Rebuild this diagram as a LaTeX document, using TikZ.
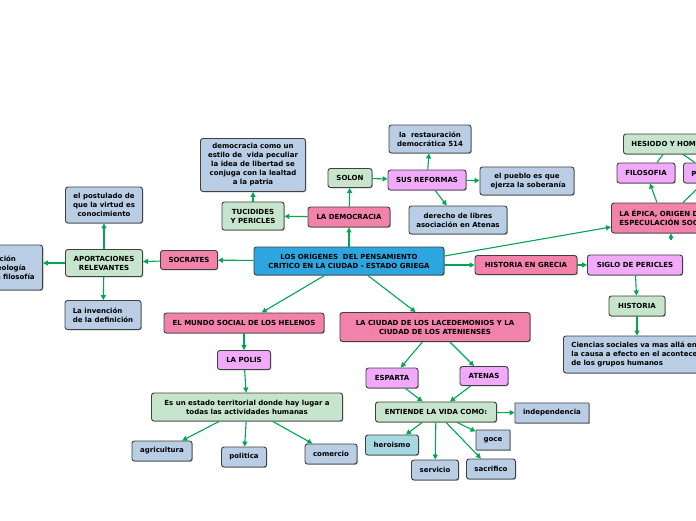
\documentclass[tikz,border=0pt]{standalone}
\usepackage{fontspec}
\setmainfont{DejaVu Sans}
\usepackage{tikz}
\usetikzlibrary{arrows.meta, calc, shadows}
\definecolor{mapgreen}{RGB}{0,166,81}
\definecolor{pinkfill}{RGB}{243,130,171}
\definecolor{violetfill}{RGB}{241,170,250}
\definecolor{greenfill}{RGB}{199,229,204}
\definecolor{bluefill}{RGB}{185,205,229}
\definecolor{corefill}{RGB}{45,166,224}
\definecolor{tealfill}{RGB}{166,216,227}
\begin{document}
\begin{tikzpicture}[x=1pt, y=-1pt,
    box/.style={draw=black!75, line width=0.9pt, rounded corners=2.5pt, align=center,
        inner sep=3pt, font=\bfseries\fontsize{7}{9}\selectfont,
        drop shadow={shadow xshift=0.9pt, shadow yshift=-0.9pt, fill=black, opacity=0.3}},
    corebox/.style={box, fill=corefill},
    pinkbox/.style={box, fill=pinkfill},
    violetbox/.style={box, fill=violetfill},
    greenbox/.style={box, fill=greenfill},
    bluebox/.style={box, fill=bluefill},
    tealbox/.style={box, fill=tealfill},
    squarebox/.style={bluebox, rounded corners=0.5pt},
    flow/.style={-{Triangle[length=5pt,width=5pt]}, line width=1.1pt, draw=mapgreen},
    link/.style={line width=1.1pt, draw=mapgreen}
]
\useasboundingbox (0,0) rectangle (696,520);
\fill[white] (0,0) rectangle (696,520);
\clip (0,0) rectangle (696,520);
\node[corebox, minimum width=190pt, minimum height=28pt] (origenes) at (349,261) {LOS ORÍGENES \ DEL PENSAMIENTO\\CRITICO EN LA CIUDAD - ESTADO GRIEGA};
\node[pinkbox, minimum width=82pt, minimum height=20pt] (democracia) at (349,217) {LA DEMOCRACIA};
\node[greenbox, minimum width=44pt, minimum height=19pt] (solon) at (350,178) {SOLON};
\node[greenbox, minimum width=62pt, minimum height=28pt] (tucidides) at (253,216) {TUCIDIDES\\Y PERICLES};
\node[bluebox, minimum width=105pt, minimum height=53pt] (estilo) at (253,165) {democracia como un\\estilo de \ vida peculiar\\la idea de libertad se\\conjuga con la lealtad\\a la patria};
\node[violetbox, minimum width=78pt, minimum height=20pt] (reformas) at (427,180) {SUS REFORMAS};
\node[bluebox, minimum width=82pt, minimum height=28pt] (restauracion) at (430,139) {la \ restauración\\democrática 514};
\node[bluebox, minimum width=94pt, minimum height=28pt] (pueblo) at (527,181) {el pueblo es que\\ \ ejerza la soberanía};
\node[bluebox, minimum width=98pt, minimum height=28pt] (derecho) at (458,220) {derecho de libres\\asociación en Atenas};
\node[pinkbox, minimum width=57pt, minimum height=19pt] (socrates) at (189,260) {SOCRATES};
\node[greenbox, minimum width=77pt, minimum height=27pt] (aportaciones) at (104,263) {APORTACIONES\\RELEVANTES};
\node[bluebox, minimum width=77pt, minimum height=36pt] (postulado) at (104,205) {el postulado de\\que la virtud es\\conocimiento};
\node[bluebox, minimum width=76pt, minimum height=29pt, align=left] (invencion) at (103,315) {La invención\\de la definición};
\node[bluebox, anchor=east, minimum height=45pt, text width=57pt, inner xsep=4pt, align=left] (creacion) at (43,267.5) {Creación\\de teología\\de la filosofía};
\node[pinkbox, minimum width=160pt, minimum height=20pt] (helenos) at (244,323) {EL MUNDO SOCIAL DE LOS HELENOS};
\node[violetbox, minimum width=53pt, minimum height=19pt] (polis) at (244,360) {LA POLIS};
\node[greenbox, minimum width=191pt, minimum height=28pt] (estado) at (247,407) {Es un estado territorial donde hay lugar a\\todas las actividades humanas};
\node[bluebox, minimum width=60pt, minimum height=20pt] (agricultura) at (162,451) {agricultura};
\node[bluebox, minimum width=45pt, minimum height=20pt] (politica) at (244,457) {politica};
\node[bluebox, minimum width=52pt, minimum height=20pt] (comercio) at (331,454) {comercio};
\node[pinkbox, minimum width=190pt, minimum height=29pt] (ciudad) at (435,327) {LA CIUDAD DE LOS LACEDEMONIOS Y LA\\CIUDAD DE LOS ATENIENSES};
\node[violetbox, minimum width=52pt, minimum height=20pt] (esparta) at (392,378) {ESPARTA};
\node[violetbox, minimum width=48pt, minimum height=19pt] (atenas) at (484,376) {ATENAS};
\node[greenbox, minimum width=121pt, minimum height=20pt] (entiende) at (436,412) {ENTIENDE LA VIDA COMO:};
\node[squarebox, minimum width=74pt, minimum height=20pt] (independencia) at (552,413) {independencia};
\node[tealbox, minimum width=53pt, minimum height=20pt] (heroismo) at (392,445) {heroismo};
\node[squarebox, minimum width=34pt, minimum height=20pt] (goce) at (493,440) {goce};
\node[bluebox, minimum width=47pt, minimum height=20pt] (servicio) at (435,470) {servicio};
\node[bluebox, minimum width=49pt, minimum height=20pt] (sacrificio) at (491,469) {sacrifico};
\node[pinkbox, minimum width=102pt, minimum height=19pt] (grecia) at (526,265) {HISTORIA EN GRECIA};
\node[violetbox, minimum width=95pt, minimum height=20pt] (pericles) at (635,265) {SIGLO DE PERICLES};
\node[greenbox, minimum width=56pt, minimum height=20pt] (historia) at (637,306) {HISTORIA};
\node[bluebox, anchor=west, minimum height=37pt, text width=190pt, inner xsep=8pt, align=left] (ciencias) at (563,354.5) {Ciencias sociales va mas allá en\\la causa a efecto en el acontecer\\de los grupos humanos};
\node[pinkbox, anchor=west, minimum height=30pt, text width=120pt, inner xsep=8pt, align=left] (epica) at (611,218) {LA ÉPICA, ORIGEN DE LA\\ESPECULACIÓN SOCIAL};
\node[violetbox, minimum width=58pt, minimum height=20pt] (filosofia) at (646,173) {FILOSOFIA};
\node[violetbox, anchor=west, minimum height=20pt, text width=44pt, inner xsep=8pt, align=left] (poesia) at (683,173) {POESÍA};
\node[greenbox, anchor=west, minimum height=20pt, text width=110pt, inner xsep=8pt, align=left] (hesiodo) at (623,144) {HESIODO Y HOMERO};
\coordinate (epicatail) at (671,240);
\draw[flow] (origenes) -- (democracia);
\draw[flow] (democracia) -- (solon);
\draw[flow] (democracia) -- (tucidides);
\draw[flow] (tucidides) -- (estilo);
\draw[flow] (solon) -- (reformas);
\draw[flow] (reformas) -- (restauracion);
\draw[flow] (reformas) -- (pueblo);
\draw[flow] (reformas) -- (derecho);
\draw[flow] (origenes) -- (socrates);
\draw[flow] (socrates) -- (aportaciones);
\draw[flow] (aportaciones) -- (postulado);
\draw[flow] (aportaciones) -- (invencion);
\draw[flow] (aportaciones.west) -- (aportaciones.west -| creacion.east);
\draw[flow] (origenes.east |- grecia.west) -- (grecia.west);
\draw[flow] ($(origenes.east)+(0,-5)$) -- ($(epica.west)+(0,9)$);
\draw[flow] (grecia) -- (pericles);
\draw[flow] (pericles) -- (historia);
\draw[flow] (historia) -- (historia |- ciencias.north);
\draw[flow] ($(epica.north west)+(46,0)$) -- (filosofia);
\draw[flow] ($(epica.north west)+(72,0)$) -- (poesia);
\draw[flow] (epicatail) -- (epicatail |- epica.south);
\draw[link] ($(hesiodo.south west)+(40,0)$) -- ($(filosofia.north)+(11,0)$);
\draw[link] ($(hesiodo.south west)+(60,0)$) -- ($(poesia.north west)+(12,0)$);
\draw[flow] (origenes) -- (helenos);
\draw[flow] (origenes) -- (ciudad);
\draw[flow] (helenos) -- (polis);
\draw[flow] (polis) -- (estado);
\draw[flow] (estado) -- (agricultura);
\draw[flow] (estado) -- (politica);
\draw[flow] (estado) -- (comercio);
\draw[flow] (ciudad) -- (esparta);
\draw[flow] (ciudad) -- (atenas);
\draw[flow] (esparta) -- (entiende);
\draw[flow] (atenas) -- (entiende);
\draw[flow] (entiende) -- (independencia);
\draw[flow] (entiende) -- (heroismo);
\draw[flow] (entiende) -- (servicio);
\draw[flow] (entiende) -- (goce);
\draw[flow] (entiende) -- (sacrificio);
\end{tikzpicture}
\end{document}
